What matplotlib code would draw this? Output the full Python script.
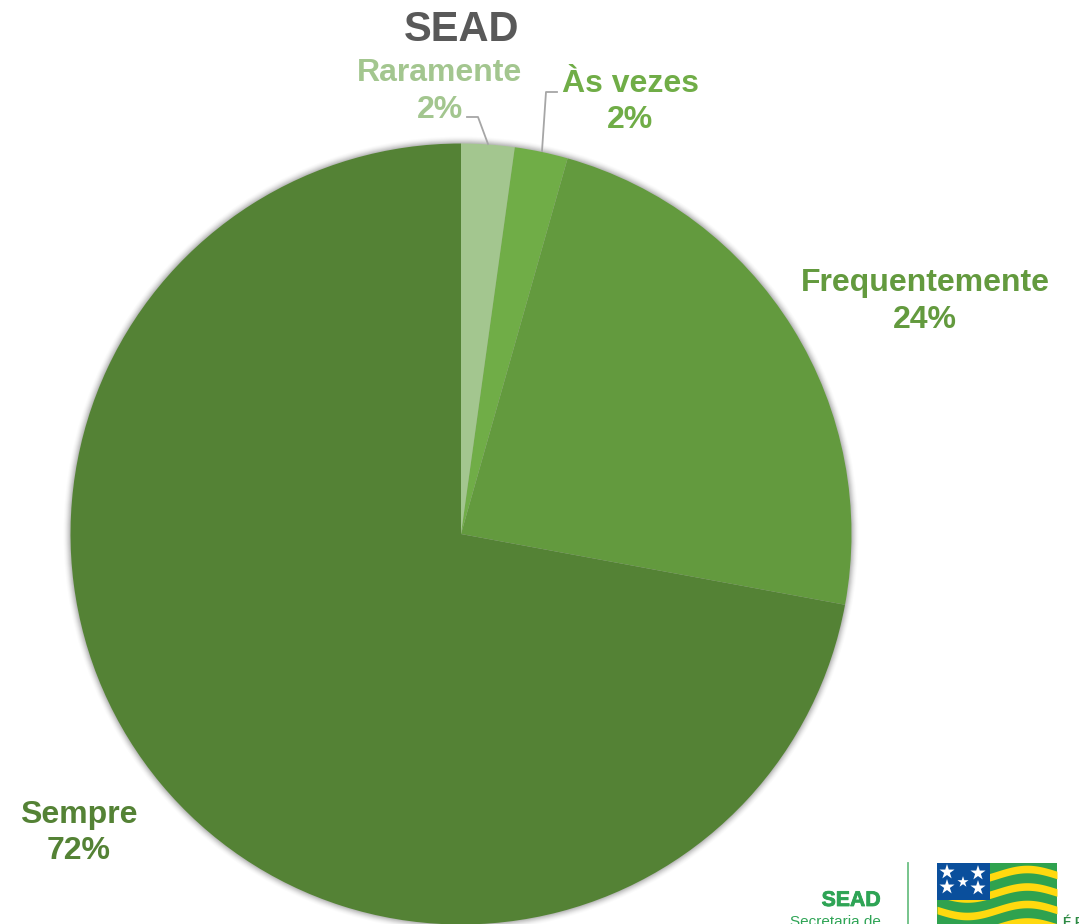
import numpy as np
import matplotlib
matplotlib.use('Agg')
import matplotlib.pyplot as plt
import matplotlib.patheffects as pe
from matplotlib.patches import Circle, Rectangle

plt.rcParams['font.family'] = ['Liberation Sans', 'DejaVu Sans']

# Data
categories = ['Raramente', 'Às vezes', 'Frequentemente', 'Sempre']
values = [2.2, 2.2, 23.5, 72.1]
pct_labels = ['2%', '2%', '24%', '72%']
colors = ['#A3C68F', '#70AD47', '#639A3E', '#548235']
title = 'SEAD'

W, H = 1079, 924
fig = plt.figure(figsize=(W / 100, H / 100), dpi=100)

# Pixel coordinate layer for the shadow
over = fig.add_axes([0, 0, 1, 1])
over.set_xlim(0, W)
over.set_ylim(H, 0)
over.axis('off')

cx, cy, r = 461, 534, 390.5

# soft shadow round the pie
for grow, a in zip([7, 6, 5, 4, 3, 2, 1], [0.015, 0.02, 0.03, 0.04, 0.05, 0.06, 0.07]):
    over.add_patch(Circle((cx, cy), r + grow, color='black', alpha=a, lw=0, zorder=1))

# Pie
ax = fig.add_axes([(cx - r) / W, 1 - (cy + r) / H, 2 * r / W, 2 * r / H], zorder=2)
ax.pie(values, colors=colors, startangle=90, counterclock=False, radius=1,
       wedgeprops={'linewidth': 0})
ax.set_xlim(-1, 1)
ax.set_ylim(-1, 1)
ax.axis('off')

# Text and logo layer on top
top = fig.add_axes([0, 0, 1, 1], zorder=3)
top.axis('off')

top.text(461.5, 30, title, ha='center', va='center', fontsize=30, fontweight='bold', color='#595959')

label_pos = [(439.5, 91.5), (630, 102), (925, 301.5), (78.5, 833)]
for name, pct, col, (x, y) in zip(categories, pct_labels, colors, label_pos):
    top.text(x, y, name + '\n' + pct, ha='center', va='center', fontsize=23, fontweight='bold',
             color=col, linespacing=1.27)

# Leader lines
top.plot([467, 478, 488], [117, 117, 144], color='#A6A6A6', lw=1.3)
top.plot([557, 546, 542], [92, 92, 151], color='#A6A6A6', lw=1.3)

# Logo
sead = top.text(880.5, 900.5, 'SEAD', ha='right', va='center', fontsize=15.3, fontweight='bold', color='#2EA455')
sead.set_path_effects([pe.withStroke(linewidth=0.6, foreground='#2EA455')])
top.text(881, 922.5, 'Secretaria de', ha='right', va='center', fontsize=11, color='#2EA455')
top.plot([908, 908], [863, 924], color='#6CBF84', lw=1.3)

fx = np.linspace(937, 1057, 80)
wave = -6 * np.cos((fx - 1027) / 60 * np.pi)
top.add_patch(Rectangle((937, 863), 120, 61, color='#2FA24F', lw=0))
for k in range(4):
    mid = 875 + 17.5 * k + wave
    top.fill_between(fx, np.clip(mid - 3.8, 863, 924), np.clip(mid + 3.8, 863, 924), color='#FFD90F', lw=0)
top.add_patch(Rectangle((937, 863), 53, 37, color='#0A4F9C', lw=0, zorder=4))
star_x = [947, 978, 947, 963, 978]
star_y = [872, 873, 887, 882, 888]
top.scatter(star_x, star_y, marker='*', s=[130, 130, 130, 70, 130], color='white', lw=0, zorder=5)
top.text(1063, 923, 'É P', ha='left', va='center', fontsize=9, fontweight='bold', color='#2E8B45')

top.set_xlim(0, W)
top.set_ylim(H, 0)

fig.savefig('out.png', dpi=100)
